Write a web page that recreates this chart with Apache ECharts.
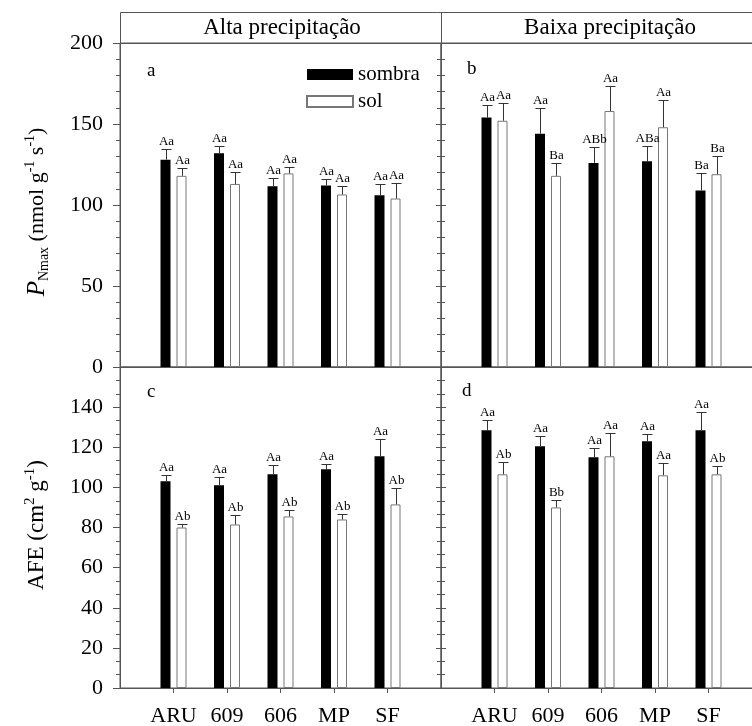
<!DOCTYPE html>
<html><head><meta charset="utf-8">
<script src="https://cdn.jsdelivr.net/npm/echarts@6/dist/echarts.min.js"></script>
<style>html,body{margin:0;padding:0;background:#fff}#c{width:752px;height:726px}</style>
</head><body><div id="c"></div>
<script>
// ---------- data ----------
const categories = ['ARU', '609', '606', 'MP', 'SF'];
const seriesNames = ['sombra', 'sol'];
const panelTitles = ['Alta precipitação', 'Baixa precipitação'];
const panelLetters = ['a', 'b', 'c', 'd'];
const pnmaxTicks = [0, 50, 100, 150, 200];
const afeTicks = [0, 20, 40, 60, 80, 100, 120, 140];
const afeAxisMax = 160;

// (a) PNmax, Alta precipitação
const aSombra = [128, 132, 111.5, 112, 106];
const aSombraErr = [6.5, 4.3, 5, 4, 7];
const aSol = [118, 113, 119.5, 106.5, 104];
const aSolErr = [4.6, 7.6, 4, 5, 9.5];
const aSombraLab = ['Aa', 'Aa', 'Aa', 'Aa', 'Aa'];
const aSolLab = ['Aa', 'Aa', 'Aa', 'Aa', 'Aa'];
// (b) PNmax, Baixa precipitação
const bSombra = [154, 144, 126, 127, 109];
const bSombraErr = [8, 16, 9.7, 9.3, 11];
const bSol = [152, 118, 158, 148, 119];
const bSolErr = [11, 8, 15.7, 17, 11.3];
const bSombraLab = ['Aa', 'Aa', 'ABb', 'ABa', 'Ba'];
const bSolLab = ['Aa', 'Ba', 'Aa', 'Aa', 'Ba'];
// (c) AFE, Alta precipitação
const cSombra = [103, 101, 106.5, 109, 115.5];
const cSombraErr = [3.3, 4.2, 4.7, 2.9, 8.8];
const cSol = [80, 81.5, 85.5, 84, 91.5];
const cSolErr = [1.8, 4.8, 3.2, 2.8, 8.4];
const cSombraLab = ['Aa', 'Aa', 'Aa', 'Aa', 'Aa'];
const cSolLab = ['Ab', 'Ab', 'Ab', 'Ab', 'Ab'];
// (d) AFE, Baixa precipitação
const dSombra = [128.5, 120.5, 115, 123, 128.5];
const dSombraErr = [5.2, 5.2, 4.5, 3.7, 9.1];
const dSol = [106.5, 90, 115.5, 106, 106.5];
const dSolErr = [6, 3.7, 11.5, 6, 4.3];
const dSombraLab = ['Aa', 'Aa', 'Aa', 'Aa', 'Aa'];
const dSolLab = ['Ab', 'Bb', 'Aa', 'Aa', 'Ab'];

// ---------- styling ----------
const FONT = '"Liberation Serif", "Times New Roman", serif';
const AXC = '#555';
const BAR_W = 10, BAR_GAP = 6;
const OFF = (BAR_W + BAR_GAP) / 2;

const panels = [
  {s: aSombra, se: aSombraErr, sl: aSombraLab, o: aSol, oe: aSolErr, ol: aSolLab},
  {s: bSombra, se: bSombraErr, sl: bSombraLab, o: bSol, oe: bSolErr, ol: bSolLab},
  {s: cSombra, se: cSombraErr, sl: cSombraLab, o: cSol, oe: cSolErr, ol: cSolLab},
  {s: dSombra, se: dSombraErr, sl: dSombraLab, o: dSol, oe: dSolErr, ol: dSolLab}
];

const axisCats = [''].concat(categories, ['']);

const grids = [
  {left: 120, top: 43, width: 321, height: 324},
  {left: 441, top: 43, width: 321, height: 324},
  {left: 120, top: 367, width: 321, height: 321},
  {left: 441, top: 367, width: 321, height: 321}
].map(g => Object.assign(g, {show: true, borderColor: AXC, borderWidth: 1, backgroundColor: 'transparent',
  containLabel: false, outerBoundsMode: 'none'}));

const xAxes = [0, 1, 2, 3].map(p => ({
  type: 'category', gridIndex: p, data: axisCats, boundaryGap: false,
  axisLine: {show: true, lineStyle: {color: AXC}},
  axisTick: {show: p >= 2, length: 5, lineStyle: {color: AXC},
    interval: (idx) => idx > 0 && idx < axisCats.length - 1},
  axisLabel: {show: p >= 2, interval: 0, margin: 17, fontFamily: FONT, fontSize: 22, color: '#000'},
  splitLine: {show: false}
}));

function yAx(p, position, showLabel, inside, top) {
  const max = top ? pnmaxTicks[pnmaxTicks.length - 1] : afeAxisMax;
  const interval = top ? pnmaxTicks[1] - pnmaxTicks[0] : afeTicks[1] - afeTicks[0];
  return {
    type: 'value', gridIndex: p, position: position, min: 0, max: max, interval: interval,
    axisLine: {show: true, lineStyle: {color: AXC}},
    axisTick: {show: true, inside: inside, length: inside ? 5 : 7, lineStyle: {color: AXC}},
    minorTick: {show: true, splitNumber: top ? 5 : 3, length: 4, lineStyle: {color: AXC}},
    splitLine: {show: false}, minorSplitLine: {show: false},
    axisLabel: {show: showLabel, margin: 17, fontFamily: FONT, fontSize: 22, color: '#000',
      formatter: (v) => (top ? pnmaxTicks : afeTicks).indexOf(v) >= 0 ? String(v) : ''}
  };
}
const yAxes = [
  yAx(0, 'left', true, false, true),   // 0
  yAx(0, 'right', false, true, true),  // 1
  yAx(1, 'left', false, true, true),   // 2
  yAx(2, 'left', true, false, false),  // 3
  yAx(2, 'right', false, true, false), // 4
  yAx(3, 'left', false, true, false)   // 5
];
const yIdx = [0, 2, 3, 5];

function errRender(vals, errs, labs, offset) {
  return function (params, api) {
    const i = params.dataIndex;
    const base = api.coord([i + 1, vals[i]]);
    const x = Math.round(base[0] + offset) + 0.5;
    const yTop = base[1];
    const yErr = Math.round(api.coord([i + 1, vals[i] + errs[i]])[1]) + 0.5;
    return {type: 'group', children: [
      {type: 'line', shape: {x1: x, y1: yTop, x2: x, y2: yErr}, style: {stroke: '#333', lineWidth: 1}},
      {type: 'line', shape: {x1: x - BAR_W / 2, y1: yErr, x2: x + BAR_W / 2, y2: yErr}, style: {stroke: '#333', lineWidth: 1}},
      {type: 'text', style: {text: labs[i], x: x, y: yErr - 1, align: 'center', verticalAlign: 'bottom',
        font: '13px ' + FONT, fill: '#000'}}
    ]};
  };
}

const series = [];
panels.forEach((pd, p) => {
  series.push({
    name: seriesNames[0], type: 'bar', xAxisIndex: p, yAxisIndex: yIdx[p],
    barWidth: BAR_W, barGap: (BAR_GAP / BAR_W * 100) + '%',
    itemStyle: {color: '#000', borderColor: '#000', borderWidth: 0},
    data: pd.s.map((v, i) => [i + 1, v]), z: 2
  });
  series.push({
    name: seriesNames[1], type: 'bar', xAxisIndex: p, yAxisIndex: yIdx[p],
    barWidth: BAR_W, barGap: (BAR_GAP / BAR_W * 100) + '%',
    itemStyle: {color: '#fff', borderColor: '#777', borderWidth: 1},
    data: pd.o.map((v, i) => [i + 1, v]), z: 2
  });
  series.push({
    type: 'custom', xAxisIndex: p, yAxisIndex: yIdx[p], z: 3,
    renderItem: errRender(pd.s, pd.se, pd.sl, -OFF),
    data: pd.s.map((v, i) => [i + 1, v + pd.se[i]])
  });
  series.push({
    type: 'custom', xAxisIndex: p, yAxisIndex: yIdx[p], z: 3,
    renderItem: errRender(pd.o, pd.oe, pd.ol, OFF),
    data: pd.o.map((v, i) => [i + 1, v + pd.oe[i]])
  });
});

const graphic = [
  {type: 'rect', shape: {x: 120.5, y: 12.5, width: 642, height: 31}, style: {fill: 'none', stroke: '#555', lineWidth: 1}},
  {type: 'line', shape: {x1: 441.5, y1: 12.5, x2: 441.5, y2: 43.5}, style: {stroke: '#555', lineWidth: 1}},
  {type: 'text', x: 282, y: 28, style: {text: panelTitles[0], align: 'center', verticalAlign: 'middle', font: '23px ' + FONT, fill: '#000'}},
  {type: 'text', x: 610, y: 28, style: {text: panelTitles[1], align: 'center', verticalAlign: 'middle', font: '23px ' + FONT, fill: '#000'}},
  {type: 'text', x: 147, y: 71, style: {text: panelLetters[0], align: 'left', verticalAlign: 'middle', font: '19px ' + FONT, fill: '#000'}},
  {type: 'text', x: 467, y: 69, style: {text: panelLetters[1], align: 'left', verticalAlign: 'middle', font: '19px ' + FONT, fill: '#000'}},
  {type: 'text', x: 147, y: 392, style: {text: panelLetters[2], align: 'left', verticalAlign: 'middle', font: '19px ' + FONT, fill: '#000'}},
  {type: 'text', x: 462, y: 391, style: {text: panelLetters[3], align: 'left', verticalAlign: 'middle', font: '19px ' + FONT, fill: '#000'}},
  {type: 'text', x: 37, y: 212, rotation: Math.PI / 2, style: {
    text: '{i|P}{sub|Nmax}{n| (nmol g}{sup|-1}{n| s}{sup|-1}{n|)}',
    align: 'center', verticalAlign: 'middle', fill: '#000',
    rich: {
      i: {fontFamily: FONT, fontSize: 25, fontStyle: 'italic', lineHeight: 28},
      n: {fontFamily: FONT, fontSize: 22, lineHeight: 28},
      sub: {fontFamily: FONT, fontSize: 14, verticalAlign: 'bottom', lineHeight: 28},
      sup: {fontFamily: FONT, fontSize: 14, verticalAlign: 'top', lineHeight: 28}
    }}},
  {type: 'text', x: 37, y: 525, rotation: Math.PI / 2, style: {
    text: '{n|AFE (cm}{sup|2}{n| g}{sup|-1}{n|)}',
    align: 'center', verticalAlign: 'middle', fill: '#000',
    rich: {
      n: {fontFamily: FONT, fontSize: 23, lineHeight: 28},
      sup: {fontFamily: FONT, fontSize: 15, verticalAlign: 'top', lineHeight: 28}
    }}}
];

const chart = echarts.init(document.getElementById('c'), null, {renderer: 'canvas'});
chart.setOption({
  animation: false,
  backgroundColor: '#fff',
  grid: grids,
  xAxis: xAxes,
  yAxis: yAxes,
  legend: {
    data: seriesNames, orient: 'vertical', left: 306, top: 64, padding: 0,
    itemWidth: 46, itemHeight: 11, itemGap: 6, icon: 'rect',
    textStyle: {fontFamily: FONT, fontSize: 21, color: '#000'}
  },
  series: series,
  graphic: graphic
});
</script>
</body></html>
